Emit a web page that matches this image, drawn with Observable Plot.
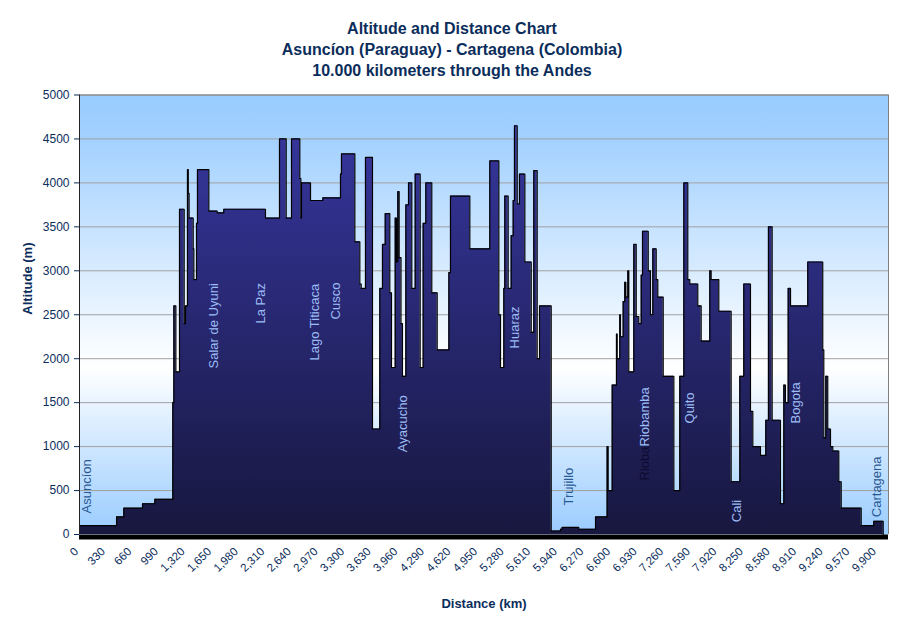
<!DOCTYPE html>
<html>
<head>
<meta charset="utf-8">
<script src="https://cdn.jsdelivr.net/npm/d3@7"></script>
<script src="https://cdn.jsdelivr.net/npm/@observablehq/plot@0.6"></script>
<style>
  html, body { margin: 0; padding: 0; background: #ffffff; }
  #title { width: 904px; height: 80px; box-sizing: border-box; padding-top: 18px; text-align: center;
    font-family: "Liberation Sans", Arial, sans-serif; font-weight: bold; font-size: 16px; line-height: 21px; color: #0b2d5b; }
  #chart svg { display: block; }
</style>
</head>
<body>
<div id="title">Altitude and Distance Chart<br>Asuncíon (Paraguay) - Cartagena (Colombia)<br>10.000 kilometers through the Andes</div>
<div id="chart"></div>
<script>
// Route profile (step points): distance along route (km) and altitude (m)
const distanceKm = [0, 460, 550, 782, 935, 1158, 1171, 1196, 1241, 1299, 1315, 1340, 1350, 1360, 1411, 1419, 1452, 1464,
  1605, 1709, 1791, 2308, 2482, 2565, 2631, 2734, 2747, 2755, 2867, 3020, 3239, 3251, 3417, 3479, 3496, 3549, 3636,
  3727, 3760, 3794, 3851, 3872, 3918, 3934, 3950, 3967, 3990, 4008, 4050, 4083, 4124, 4166, 4228, 4265, 4298, 4372,
  4439, 4584, 4604, 4844, 5092, 5204, 5225, 5266, 5278, 5320, 5357, 5382, 5398, 5432, 5460, 5527, 5606, 5638, 5680,
  5709, 5854, 5969, 5990, 6196, 6404, 6548, 6561, 6611, 6664, 6673, 6705, 6714, 6747, 6767, 6780, 6805, 6817, 6879,
  6909, 6941, 6971, 6987, 7058, 7086, 7115, 7157, 7177, 7244, 7376, 7450, 7500, 7549, 7574, 7673, 7715, 7822, 7839,
  7934, 8087, 8195, 8244, 8327, 8356, 8451, 8517, 8550, 8596, 8699, 8741, 8761, 8795, 8824, 9038, 9224, 9237, 9262,
  9286, 9320, 9349, 9423, 9453, 9701, 9857, 9974];
const altitudeM = [100, 200, 300, 350, 400, 1500, 2600, 1850, 3700, 2400, 2600, 4150, 3880, 3600, 3250, 2900, 3540, 4150,
  3680, 3660, 3700, 3600, 4500, 3600, 4500, 4050, 3600, 4000, 3800, 3830, 4100, 4330, 3330, 2850, 2800, 4290, 1200,
  2800, 3300, 3650, 2750, 1900, 3600, 3100, 3900, 3150, 2400, 1800, 3750, 4000, 2800, 4100, 1900, 3540, 4000, 2750,
  2100, 2980, 3850, 3250, 4250, 2500, 1900, 2800, 3850, 2800, 3400, 3800, 4650, 3760, 4100, 3100, 2300, 4140, 2000,
  2600, 40, 60, 80, 60, 200, 1000, 500, 1700, 2280, 2000, 2500, 2250, 2650, 2870, 2700, 3000, 1850, 3300,
  2480, 2400, 2950, 3450, 3000, 2500, 3250, 2900, 2700, 1800, 500, 1800, 4000, 2900, 2850, 2600, 2200, 3000, 2900,
  2540, 600, 1800, 2850, 1400, 1000, 900, 1300, 3500, 1300, 350, 1700, 1500, 2800, 2600, 3100, 2100, 1100, 1800,
  1200, 1000, 950, 600, 300, 100, 150, 0];

// Place labels along the route
const placeNames = ["Asuncíon", "Salar de Uyuni", "La Paz", "Lago Titicaca", "Cusco", "Ayacucho", "Huaraz", "Trujillo",
  "Rioba", "Riobamba", "Quito", "Cali", "Bogota", "Cartagena"];
const placeKm = [87, 1667, 2246, 2916, 3177, 4012, 5398, 6072, 7012, 7012, 7574, 8153, 8886, 9899];
const labelAlt = [239, 1889, 2401, 1980, 2447, 937, 2117, 330, 615, 1001, 1263, 140, 1263, 197];
const labelTone = ["dark", "light", "light", "light", "light", "light", "light", "dark", "shadow", "light", "light", "light", "light", "dark"];

const altTicks = d3.range(0, 5001, 500);
const kmTicks = d3.range(0, 9901, 330);

const profile = distanceKm.map((d, i) => ({km: d, alt: altitudeM[i]}));
const places = placeNames.map((n, i) => ({name: n, km: placeKm[i], alt: labelAlt[i], tone: labelTone[i]}));

const svg = Plot.plot({
  width: 904,
  height: 542,
  marginTop: 14.5,
  marginLeft: 79,
  marginRight: 16,
  marginBottom: 88,
  style: {fontFamily: "'Liberation Sans', Arial, sans-serif", fontSize: "12px", color: "#0b2d5b", background: "#ffffff"},
  x: {domain: [0, 10040]},
  y: {domain: [0, 5000]},
  marks: [
    Plot.frame({fill: "url(#bgGrad)", stroke: "none"}),
    Plot.gridY(altTicks.filter(d => d > 0), {stroke: "#a0a0a0", strokeOpacity: 1}),
    Plot.areaY(profile, {x: "km", y: "alt", curve: "step-after", fill: "url(#areaGrad)"}),
    Plot.lineY(profile, {x: "km", y: "alt", curve: "step-after", stroke: "#000000", strokeWidth: 1.2}),
    Plot.ruleY([5000], {stroke: "#808080"}),
    Plot.ruleX([10040], {stroke: "#808080"}),
    Plot.ruleX([0], {stroke: "#222222"}),
    Plot.ruleY([0], {stroke: "#000000", strokeWidth: 5, dy: 2.5}),
    Plot.axisY({ticks: altTicks, tickSize: 5, tickPadding: 5, tickFormat: d => String(d), label: null, fontSize: 12}),
    Plot.axisX({ticks: kmTicks, tickFormat: d3.format(","), tickRotate: -45, tickSize: 0, tickPadding: 15, dx: -3, label: null, fontSize: 11.5}),
    Plot.text(places.filter(d => d.tone === "light"), {x: "km", y: "alt", text: "name", rotate: -90, textAnchor: "start", fill: "#9dbcf5", fontSize: 13}),
    Plot.text(places.filter(d => d.tone === "dark"), {x: "km", y: "alt", text: "name", rotate: -90, textAnchor: "start", fill: "#2a5894", fontSize: 13}),
    Plot.text(places.filter(d => d.tone === "shadow"), {x: "km", y: "alt", text: "name", rotate: -90, textAnchor: "start", fill: "#0c0c30", fontSize: 13}),
    Plot.text(["Altitude (m)"], {frameAnchor: "left", dx: -52, rotate: -90, fontWeight: "bold", fontSize: 13, fill: "#0b2d5b"}),
    Plot.text(["Distance (km)"], {frameAnchor: "bottom", dy: 73, fontWeight: "bold", fontSize: 13, fill: "#0b2d5b"})
  ]
});

svg.insertAdjacentHTML("afterbegin",
  `<defs>
    <linearGradient id="bgGrad" x1="0" y1="0" x2="0" y2="1">
      <stop offset="0" stop-color="#99ccff"/>
      <stop offset="0.1" stop-color="#a3d1ff"/>
      <stop offset="0.62" stop-color="#ffffff"/>
      <stop offset="1" stop-color="#99ccff"/>
    </linearGradient>
    <linearGradient id="areaGrad" x1="0" y1="0" x2="0" y2="1">
      <stop offset="0" stop-color="#36369e"/>
      <stop offset="1" stop-color="#17173f"/>
    </linearGradient>
  </defs>`);

document.getElementById("chart").appendChild(svg);
</script>
</body>
</html>
